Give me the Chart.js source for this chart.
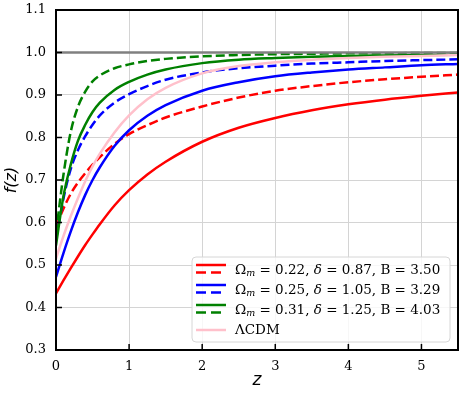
<!DOCTYPE html>
<html>
<head>
<meta charset="utf-8">
<script src="https://cdn.jsdelivr.net/npm/chart.js@4"></script>
<style>
  html, body { margin: 0; padding: 0; background: #fff; }
  #wrap { width: 463px; height: 397px; }
</style>
</head>
<body>
<div id="wrap"><canvas id="c" width="463" height="397"></canvas></div>
<script>
// redshift samples and f(z)
const zs = [0, 0.1, 0.2, 0.3, 0.4, 0.5, 0.6, 0.8, 1.0, 1.25, 1.5, 2, 2.5, 3, 3.5, 4, 4.5, 5, 5.5];

const redSolid   = [0.433, 0.463, 0.492, 0.520, 0.547, 0.572, 0.596, 0.640, 0.676, 0.713, 0.743, 0.790, 0.823, 0.846, 0.864, 0.878, 0.889, 0.898, 0.906];
const redDashed  = [0.590, 0.632, 0.667, 0.694, 0.716, 0.736, 0.754, 0.785, 0.808, 0.829, 0.847, 0.873, 0.894, 0.910, 0.921, 0.930, 0.937, 0.943, 0.948];
const blueSolid  = [0.472, 0.527, 0.578, 0.624, 0.665, 0.700, 0.730, 0.780, 0.817, 0.851, 0.876, 0.910, 0.930, 0.944, 0.953, 0.960, 0.965, 0.970, 0.973];
const blueDashed = [0.560, 0.655, 0.725, 0.770, 0.803, 0.830, 0.852, 0.882, 0.902, 0.921, 0.936, 0.953, 0.963, 0.969, 0.974, 0.977, 0.980, 0.982, 0.984];
const greenSolid = [0.546, 0.660, 0.735, 0.792, 0.830, 0.860, 0.882, 0.912, 0.931, 0.948, 0.960, 0.975, 0.983, 0.987, 0.990, 0.992, 0.993, 0.994, 0.995];
const greenDashed= [0.575, 0.710, 0.812, 0.872, 0.908, 0.932, 0.946, 0.963, 0.972, 0.980, 0.985, 0.991, 0.994, 0.996, 0.997, 0.998, 0.998, 0.999, 0.999];
const lcdm       = [0.515, 0.567, 0.614, 0.657, 0.697, 0.732, 0.762, 0.812, 0.852, 0.890, 0.917, 0.951, 0.968, 0.977, 0.983, 0.987, 0.990, 0.992, 0.994];

const refLineX = [0, 5.5];
const refLineY = [1.0, 1.0];

const xTicks = [0, 1, 2, 3, 4, 5];
const yTicks = [0.3, 0.4, 0.5, 0.6, 0.7, 0.8, 0.9, 1.0, 1.1];

const legendRows = [
  { color: 'red',   om: '0.22', delta: '0.87', b: '3.50' },
  { color: 'blue',  om: '0.25', delta: '1.05', b: '3.29' },
  { color: 'green', om: '0.31', delta: '1.25', b: '4.03' }
];

const pts = ys => zs.map((z, i) => ({ x: z, y: ys[i] }));

function line(ys, color, dashed) {
  return {
    data: pts(ys),
    borderColor: color,
    borderWidth: 2.5,
    borderDash: dashed ? [9, 4] : [],
    pointRadius: 0,
    fill: false,
    cubicInterpolationMode: 'monotone'
  };
}

const datasets = [
  line(redSolid, '#ff0000', false),
  line(redDashed, '#ff0000', true),
  line(blueSolid, '#0000ff', false),
  line(blueDashed, '#0000ff', true),
  line(greenSolid, '#008000', false),
  line(greenDashed, '#008000', true),
  line(lcdm, '#ffc0cb', false),
  {
    data: refLineX.map((x, i) => ({ x: x, y: refLineY[i] })),
    borderColor: '#808080', borderWidth: 2.5, pointRadius: 0, fill: false
  }
];
// later datasets on top
datasets.forEach((d, i) => { d.order = datasets.length - i; });

const serif = '"DejaVu Serif", serif';

// frame, inward ticks and the legend box
const decor = {
  id: 'decor',
  afterDraw(chart) {
    const ctx = chart.ctx;
    const a = chart.chartArea;
    const xs = chart.scales.x, ysc = chart.scales.y;
    ctx.save();
    ctx.strokeStyle = '#000';
    ctx.lineWidth = 1.5;
    ctx.beginPath();
    xTicks.forEach(v => {
      const px = xs.getPixelForValue(v);
      ctx.moveTo(px, a.bottom); ctx.lineTo(px, a.bottom - 6);
    });
    yTicks.forEach(v => {
      const py = ysc.getPixelForValue(v);
      ctx.moveTo(a.left, py); ctx.lineTo(a.left + 6, py);
    });
    ctx.stroke();

    ctx.lineWidth = 2;
    ctx.strokeRect(a.left, a.top, a.right - a.left, a.bottom - a.top);

    // legend
    const bx = 192, by = 257, bw = 258, bh = 85, r = 4;
    ctx.beginPath();
    ctx.moveTo(bx + r, by);
    ctx.arcTo(bx + bw, by, bx + bw, by + bh, r);
    ctx.arcTo(bx + bw, by + bh, bx, by + bh, r);
    ctx.arcTo(bx, by + bh, bx, by, r);
    ctx.arcTo(bx, by, bx + bw, by, r);
    ctx.closePath();
    ctx.fillStyle = 'rgba(255,255,255,0.8)';
    ctx.fill();
    ctx.strokeStyle = '#d6d6d6';
    ctx.lineWidth = 1;
    ctx.stroke();

    const hx0 = 196, hx1 = 226, tx = 235;
    ctx.lineWidth = 2.5;
    legendRows.forEach((row, i) => {
      const cy = 270 + i * 20;
      ctx.strokeStyle = row.color;
      ctx.setLineDash([]);
      ctx.beginPath(); ctx.moveTo(hx0, cy - 5); ctx.lineTo(hx1, cy - 5); ctx.stroke();
      ctx.setLineDash([10, 5]);
      ctx.beginPath(); ctx.moveTo(hx0, cy + 2.5); ctx.lineTo(hx1, cy + 2.5); ctx.stroke();
      ctx.setLineDash([]);

      ctx.fillStyle = '#000';
      ctx.textBaseline = 'middle';
      ctx.textAlign = 'left';
      let x = tx;
      const put = (s, font, dy) => {
        ctx.font = font;
        ctx.fillText(s, x, cy + (dy || 0));
        x += ctx.measureText(s).width;
      };
      put('\u03A9', '13.5px ' + serif);
      put('m', 'italic 9.5px ' + serif, 3.5);
      put(' = ' + row.om + ', ', '13.5px ' + serif);
      put('\u03B4', 'italic 13.5px ' + serif);
      put(' = ' + row.delta + ', B = ' + row.b, '13.5px ' + serif);
    });
    const cy4 = 330;
    ctx.strokeStyle = '#ffc0cb';
    ctx.beginPath(); ctx.moveTo(hx0, cy4); ctx.lineTo(hx1, cy4); ctx.stroke();
    ctx.fillStyle = '#000';
    ctx.font = '13.5px ' + serif;
    ctx.fillText('\u039BCDM', tx, cy4);
    ctx.restore();
  }
};

new Chart(document.getElementById('c'), {
  type: 'line',
  data: { datasets: datasets },
  plugins: [decor],
  options: {
    responsive: false,
    animation: false,
    layout: { padding: { top: 10, right: 5, left: 0, bottom: 0 } },
    plugins: { legend: { display: false }, tooltip: { enabled: false } },
    scales: {
      x: {
        type: 'linear', min: 0, max: 5.5,
        afterFit(s) { s.height = 47; s.paddingLeft = 0; s.paddingRight = 0; },
        afterBuildTicks(s) { s.ticks = xTicks.map(v => ({ value: v })); },
        grid: { color: '#d4d4d4', lineWidth: 1, drawTicks: false },
        border: { display: false },
        ticks: { color: '#000', padding: 9, font: { family: serif, size: 13 },
                 callback: v => String(v) },
        title: { display: true, text: 'z', color: '#000', padding: { top: 0, bottom: 6 },
                 font: { family: '"DejaVu Sans", sans-serif', size: 17, style: 'italic' } }
      },
      y: {
        min: 0.3, max: 1.1,
        afterFit(s) { s.width = 56; s.paddingTop = 0; s.paddingBottom = 0; },
        afterBuildTicks(s) { s.ticks = yTicks.map(v => ({ value: v })); },
        grid: { color: '#d4d4d4', lineWidth: 1, drawTicks: false },
        border: { display: false },
        ticks: { color: '#000', padding: 10, font: { family: serif, size: 13 },
                 callback: v => Number(v).toFixed(1) },
        title: { display: true, text: 'f(z)', color: '#000', padding: { top: 2, bottom: 0 },
                 font: { family: '"DejaVu Sans", sans-serif', size: 16, style: 'italic' } }
      }
    }
  }
});
</script>
</body>
</html>
